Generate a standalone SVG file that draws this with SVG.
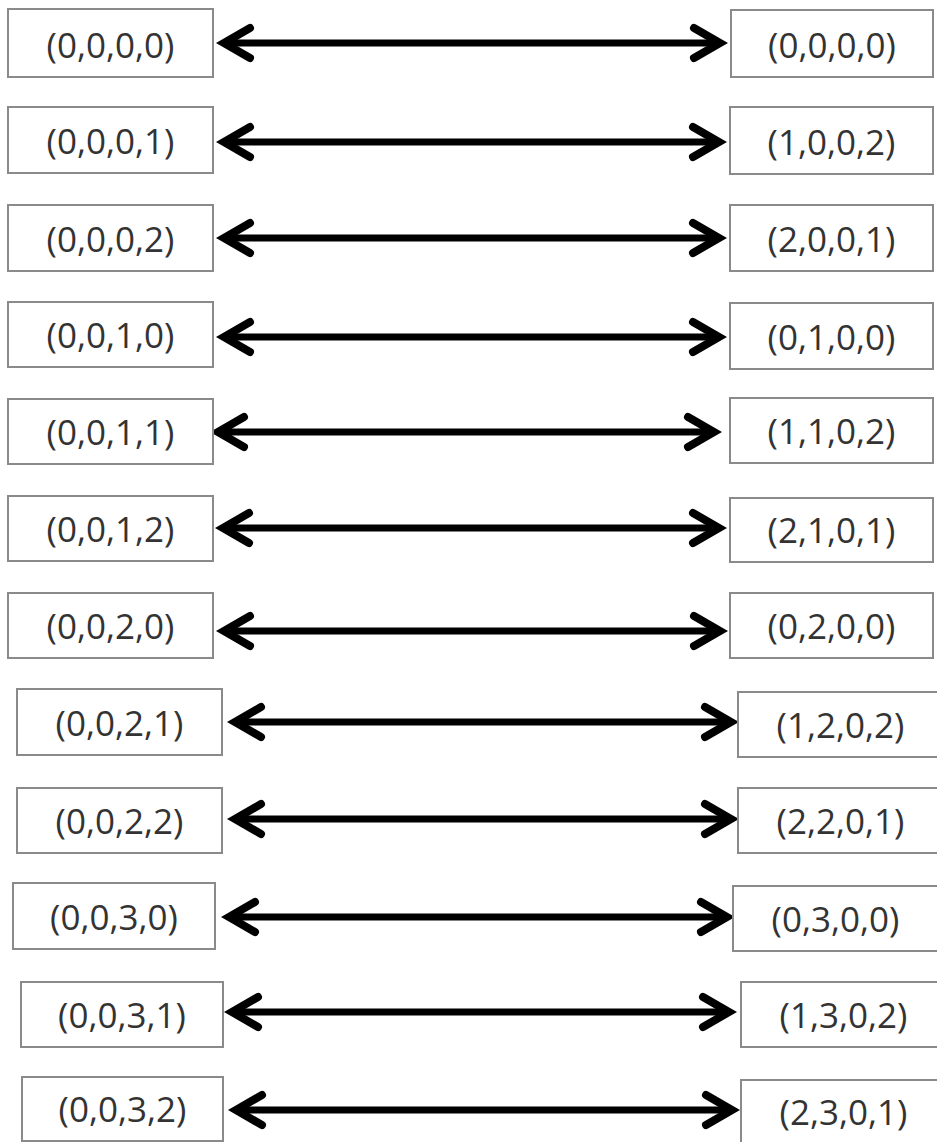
<svg xmlns="http://www.w3.org/2000/svg" width="937" height="1142" viewBox="0 0 937 1142">
<style>
.box{fill:#fff;stroke:#8a8a8a;stroke-width:2}
.lbl{font-family:"Open Sans","Liberation Sans",sans-serif;font-size:35px;fill:#333;text-anchor:middle}
.arr{stroke:#000;stroke-width:7;fill:none;marker-start:url(#ah);marker-end:url(#ah)}
</style>
<defs>
<marker id="ah" markerUnits="userSpaceOnUse" viewBox="-40 -22 55 44" refX="0" refY="0" markerWidth="55" markerHeight="44" orient="auto-start-reverse">
<path d="M-26,-15 L0,0 L-26,15" fill="none" stroke="#000" stroke-width="8" stroke-linecap="round" stroke-linejoin="miter"/>
</marker>
</defs>
<rect width="937" height="1142" fill="#fff"/>
<g id="connectors">
<line class="arr" x1="224" y1="43" x2="720" y2="43"/>
<line class="arr" x1="224" y1="142" x2="719" y2="142"/>
<line class="arr" x1="224" y1="238" x2="719" y2="238"/>
<line class="arr" x1="224" y1="337" x2="719" y2="337"/>
<line class="arr" x1="218" y1="432" x2="714" y2="432"/>
<line class="arr" x1="223" y1="528" x2="719" y2="528"/>
<line class="arr" x1="224" y1="631" x2="720" y2="631"/>
<line class="arr" x1="235" y1="722" x2="731" y2="722"/>
<line class="arr" x1="235" y1="819" x2="731" y2="819"/>
<line class="arr" x1="229" y1="917" x2="727" y2="917"/>
<line class="arr" x1="232" y1="1012" x2="729" y2="1012"/>
<line class="arr" x1="236" y1="1110" x2="732" y2="1110"/>
</g>
<g id="L1"><rect class="box" x="8" y="9" width="205" height="68"/><text class="lbl" x="110.5" y="58">(0,0,0,0)</text></g>
<g id="R1"><rect class="box" x="731" y="10" width="202" height="67"/><text class="lbl" x="832" y="58">(0,0,0,0)</text></g>
<g id="L2"><rect class="box" x="8" y="107" width="205" height="66"/><text class="lbl" x="110.5" y="154">(0,0,0,1)</text></g>
<g id="R2"><rect class="box" x="730" y="107" width="203" height="67"/><text class="lbl" x="831.5" y="155">(1,0,0,2)</text></g>
<g id="L3"><rect class="box" x="8" y="205" width="205" height="66"/><text class="lbl" x="110.5" y="252">(0,0,0,2)</text></g>
<g id="R3"><rect class="box" x="730" y="205" width="203" height="66"/><text class="lbl" x="831.5" y="252">(2,0,0,1)</text></g>
<g id="L4"><rect class="box" x="8" y="302" width="205" height="65"/><text class="lbl" x="110.5" y="348">(0,0,1,0)</text></g>
<g id="R4"><rect class="box" x="730" y="303" width="203" height="66"/><text class="lbl" x="831.5" y="350">(0,1,0,0)</text></g>
<g id="L5"><rect class="box" x="8" y="399" width="205" height="65"/><text class="lbl" x="110.5" y="445">(0,0,1,1)</text></g>
<g id="R5"><rect class="box" x="730" y="398" width="203" height="65"/><text class="lbl" x="831.5" y="444">(1,1,0,2)</text></g>
<g id="L6"><rect class="box" x="8" y="496" width="205" height="65"/><text class="lbl" x="110.5" y="542">(0,0,1,2)</text></g>
<g id="R6"><rect class="box" x="730" y="498" width="203" height="64"/><text class="lbl" x="831.5" y="543">(2,1,0,1)</text></g>
<g id="L7"><rect class="box" x="8" y="593" width="205" height="65"/><text class="lbl" x="110.5" y="639">(0,0,2,0)</text></g>
<g id="R7"><rect class="box" x="730" y="593" width="203" height="65"/><text class="lbl" x="831.5" y="639">(0,2,0,0)</text></g>
<g id="L8"><rect class="box" x="17" y="689" width="205" height="66"/><text class="lbl" x="119.5" y="736">(0,0,2,1)</text></g>
<g id="R8"><rect class="box" x="738" y="692" width="205" height="65"/><text class="lbl" x="840.5" y="738">(1,2,0,2)</text></g>
<g id="L9"><rect class="box" x="17" y="788" width="205" height="65"/><text class="lbl" x="119.5" y="834">(0,0,2,2)</text></g>
<g id="R9"><rect class="box" x="738" y="788" width="205" height="65"/><text class="lbl" x="840.5" y="834">(2,2,0,1)</text></g>
<g id="L10"><rect class="box" x="13" y="883" width="202" height="66"/><text class="lbl" x="114" y="930">(0,0,3,0)</text></g>
<g id="R10"><rect class="box" x="733" y="886" width="205" height="65"/><text class="lbl" x="835.5" y="932">(0,3,0,0)</text></g>
<g id="L11"><rect class="box" x="21" y="982" width="202" height="65"/><text class="lbl" x="122" y="1028">(0,0,3,1)</text></g>
<g id="R11"><rect class="box" x="741" y="982" width="205" height="65"/><text class="lbl" x="843.5" y="1028">(1,3,0,2)</text></g>
<g id="L12"><rect class="box" x="22" y="1077" width="201" height="64"/><text class="lbl" x="122.5" y="1122">(0,0,3,2)</text></g>
<g id="R12"><rect class="box" x="741" y="1080" width="205" height="64"/><text class="lbl" x="843.5" y="1125">(2,3,0,1)</text></g>
</svg>
